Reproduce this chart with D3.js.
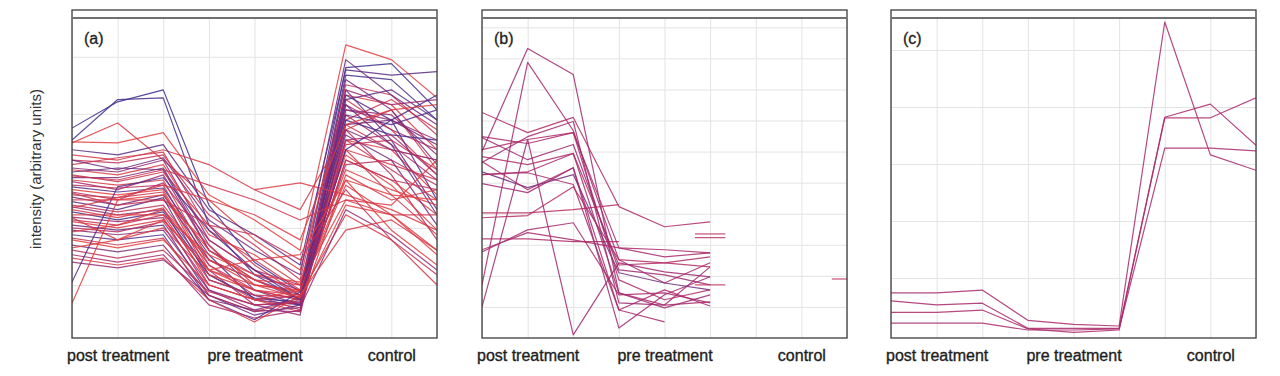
<!DOCTYPE html>
<html>
<head>
<meta charset="utf-8">
<script src="https://cdn.jsdelivr.net/npm/d3@7"></script>
<style>
body { margin: 0; background: #fff; }
svg { display: block; font-family: "Liberation Sans", Arial, sans-serif; }
.grid line { stroke: #e3e3e3; stroke-width: 1; }
.grid path { display: none; }
.xlab path { display: none; }
.xlab text { font-size: 16px; fill: #1e1e1e; stroke: #1e1e1e; stroke-width: 0.35px; }
</style>
</head>
<body>
<svg id="chart" width="1280" height="376"></svg>
<script>
// three groups, three replicate slots each
const categories = ["post treatment", "pre treatment", "control"];
const replicates = [1, 2, 3];
const panelLabels = ["(a)", "(b)", "(c)"];

const ticksA = [1, 2, 3, 4, 5];
const ticksB = [1, 2, 3, 4, 5, 6, 7, 8, 9, 10];
const ticksC = [1, 2, 3, 4, 5];
const domainA = [0.07, 5.68];
const domainB = [0, 10.3];
const domainC = [-0.05, 5.56];

// panel (a): intensity per slot, tone 0 = red, 1 = blue
const seriesA = [
  [3.75, 4.21, 4.42, 2.40, 1.40, 0.88, 4.81, 4.88, 4.07],
  [3.54, 4.25, 4.28, 2.05, 1.18, 0.74, 4.68, 4.60, 3.89],
  [3.49, 3.84, 3.19, 2.49, 1.79, 1.26, 4.33, 4.16, 3.37],
  [3.51, 3.49, 3.67, 2.58, 2.14, 1.61, 5.21, 4.95, 4.28],
  [3.28, 3.19, 3.37, 3.11, 2.67, 2.32, 3.72, 4.07, 3.02],
  [3.19, 3.14, 3.28, 2.23, 1.70, 1.09, 4.51, 4.33, 3.63],
  [3.11, 3.23, 3.33, 1.96, 1.44, 0.91, 4.25, 3.72, 2.93],
  [3.05, 2.98, 3.19, 1.79, 1.26, 0.82, 4.07, 3.89, 3.54],
  [3.02, 2.93, 3.11, 1.88, 1.53, 1.00, 3.54, 3.37, 2.58],
  [2.98, 3.05, 3.02, 1.61, 1.09, 0.74, 4.42, 3.54, 2.32],
  [2.93, 2.81, 2.98, 2.05, 1.35, 0.82, 3.89, 4.25, 3.72],
  [2.88, 2.88, 3.05, 1.70, 0.91, 0.65, 4.60, 4.07, 3.11],
  [2.84, 2.75, 2.84, 1.44, 1.00, 0.77, 3.37, 3.11, 2.84],
  [2.81, 2.67, 2.93, 1.61, 1.18, 0.91, 4.16, 3.72, 3.37],
  [2.75, 2.70, 2.75, 1.35, 0.82, 0.56, 3.72, 2.93, 1.79],
  [2.72, 2.63, 2.70, 1.53, 0.74, 0.65, 4.33, 3.89, 2.49],
  [2.67, 2.58, 2.67, 1.26, 0.91, 0.74, 3.19, 2.84, 2.23],
  [2.63, 2.49, 2.79, 1.79, 1.26, 1.00, 3.98, 3.46, 2.84],
  [2.58, 2.53, 2.63, 1.18, 0.74, 0.53, 3.81, 3.37, 3.19],
  [2.54, 2.40, 2.58, 1.44, 1.09, 0.82, 3.63, 3.19, 2.05],
  [2.49, 2.49, 2.49, 1.70, 1.00, 0.91, 3.02, 2.67, 2.40],
  [2.46, 2.32, 2.53, 1.09, 0.82, 0.65, 4.25, 4.42, 3.89],
  [2.40, 2.28, 2.40, 1.35, 0.91, 0.74, 3.46, 3.54, 3.02],
  [2.37, 2.23, 2.32, 1.26, 0.65, 0.47, 4.07, 3.98, 3.28],
  [2.32, 2.18, 2.35, 1.00, 0.74, 0.60, 2.93, 2.49, 2.67],
  [2.28, 2.14, 2.28, 1.18, 0.77, 0.70, 3.89, 3.63, 3.54],
  [2.23, 2.23, 2.23, 1.53, 1.18, 1.05, 3.28, 2.75, 1.96],
  [2.19, 2.11, 2.18, 0.91, 0.56, 0.53, 4.42, 4.16, 4.25],
  [2.14, 2.05, 2.23, 1.09, 0.82, 0.79, 3.54, 3.02, 2.49],
  [2.11, 2.00, 2.14, 1.26, 1.00, 0.88, 2.75, 2.23, 1.61],
  [2.05, 1.96, 2.05, 0.82, 0.47, 0.65, 4.16, 3.46, 2.23],
  [2.00, 1.93, 2.11, 1.00, 0.74, 0.81, 3.11, 3.19, 2.75],
  [1.96, 1.88, 1.96, 0.91, 0.65, 0.68, 3.72, 3.37, 3.19],
  [1.93, 2.05, 2.32, 1.44, 1.09, 1.00, 2.49, 2.40, 3.19],
  [1.88, 1.79, 1.88, 0.74, 0.39, 0.88, 3.98, 3.81, 4.07],
  [1.82, 1.70, 1.82, 0.82, 0.53, 0.74, 3.37, 2.58, 1.88],
  [1.79, 1.65, 1.79, 1.00, 0.74, 0.91, 2.84, 1.96, 1.35],
  [1.70, 1.58, 1.70, 0.74, 0.56, 0.77, 3.81, 3.89, 3.46],
  [1.61, 1.47, 1.61, 0.88, 0.65, 0.70, 3.19, 2.84, 2.67],
  [1.53, 1.40, 1.53, 0.65, 0.42, 0.56, 3.54, 3.63, 2.93],
  [1.47, 1.35, 1.47, 0.74, 0.35, 0.82, 2.23, 1.79, 1.00],
  [1.40, 1.30, 1.44, 0.82, 0.53, 0.60, 2.32, 1.88, 1.26],
  [1.05, 2.72, 2.88, 1.96, 1.26, 0.74, 3.37, 3.89, 4.33],
  [0.68, 2.49, 2.58, 1.61, 1.09, 0.77, 2.40, 2.23, 1.53],
  [null, null, null, null, 2.67, 2.79, 2.58, 2.32, 1.96],
  [3.37, 3.28, 3.46, 2.32, 1.88, 1.35, 4.77, 4.68, 4.74],
  [3.19, 3.02, 3.23, 2.14, 1.61, 1.18, 4.95, 4.33, 3.81],
  [2.91, 2.84, 3.02, 2.75, 2.49, 2.14, 2.49, 2.23, 2.23],
  [2.61, 2.40, 2.49, 2.05, 1.88, 1.44, 2.67, 1.79, 1.18],
  [2.35, 2.53, 2.75, 2.49, 2.23, 1.79, 3.81, 4.07, 4.16],
  [2.18, 1.79, 2.00, 1.18, 0.91, 0.82, 1.96, 2.14, 1.61],
  [1.65, 1.79, 2.14, 1.26, 1.44, 1.53, 2.84, 2.58, 2.49]
];
const toneA = [1.0, 0.95, 0.1, 0.05, 0.15, 0.3, 0.2, 0.6, 0.1, 0.8, 0.25, 0.7, 0.15,
  0.5, 0.35, 0.9, 0.05, 0.45, 0.2, 0.75, 0.1, 0.85, 0.3, 0.6, 0.15, 0.95, 0.05, 0.55,
  0.25, 0.1, 0.8, 0.4, 0.65, 0.1, 0.9, 0.2, 0.05, 0.7, 0.35, 0.5, 0.15, 0.6, 0.9, 0.05,
  0.1, 0.85, 0.75, 0.2, 0.3, 0.1, 0.15, 0.05];

// panel (b)
const seriesB = [
  [7.26, 6.61, 7.10, 4.23, 3.58, 3.74, null, null, null],
  [6.00, 9.32, 8.48, 1.45, 0.97, 1.39, null, null, null],
  [1.71, 8.87, 6.68, 2.52, 1.77, 2.42, null, null, null],
  [6.48, 6.26, 6.61, 2.90, 2.61, 2.74, null, null, null],
  [5.84, 5.58, 5.94, 2.35, 2.42, 2.61, null, null, null],
  [5.65, 6.48, 6.97, 1.13, 1.06, 2.29, null, null, null],
  [5.35, 4.84, 5.26, 2.10, 1.77, 1.55, null, null, null],
  [5.26, 5.32, 4.94, 0.90, 0.52, null, null, null, null],
  [4.97, 4.68, 5.48, 0.32, 1.39, 1.97, null, null, null],
  [3.19, 3.19, 3.10, 3.10, null, null, null, null, null],
  [4.03, 4.03, 4.13, 4.29, null, null, null, null, null],
  [2.84, 3.39, 3.16, 2.90, 2.84, 2.74, null, null, null],
  [2.77, 3.48, 3.71, 1.39, 1.45, 1.13, null, null, null],
  [1.00, 6.39, 0.10, 2.42, 2.13, 1.97, null, null, null],
  [3.87, 3.94, 4.87, 2.52, 2.42, 2.29, null, null, null],
  [5.26, 5.35, 5.94, 1.45, 1.06, 1.16, null, null, null],
  [5.68, 4.77, 5.48, 0.90, 1.55, 1.03, null, null, null],
  [6.06, 6.39, 6.61, 1.87, 1.23, 1.55, null, null, null],
  [6.45, 5.74, 6.23, 2.19, 2.03, 1.71, null, null, null],
  [null, null, null, null, null, 3.35, null, null, null],
  [null, null, null, null, null, 3.23, null, null, null],
  [null, null, null, null, null, 1.71, null, null, null],
  [null, null, null, null, null, null, null, null, 1.90]
];
const toneB = [0.45, 0.55, 0.5, 0.5, 0.45, 0.55, 0.75, 0.5, 0.55, 0.45, 0.4, 0.5,
  0.5, 0.55, 0.4, 0.5, 0.5, 0.45, 0.55, 0.35, 0.35, 0.35, 0.35];

// panel (c)
const seriesC = [
  [0.74, 0.74, 0.79, 0.26, 0.19, 0.16, 5.49, 3.16, 2.89],
  [0.60, 0.53, 0.56, 0.12, 0.12, 0.12, 3.82, 4.05, 3.33],
  [0.40, 0.40, 0.44, 0.11, 0.05, 0.09, 3.81, 3.81, 4.16],
  [0.21, 0.21, 0.21, 0.09, 0.09, 0.11, 3.28, 3.28, 3.23]
];
const toneC = [0.5, 0.5, 0.48, 0.5];

const slots = categories.flatMap(c => replicates.map(r => c + " " + r));
const color = d3.scaleLinear().domain([0, 0.5, 1]).range(["#e8403a", "#a8286a", "#3a2c8e"]);

const panels = [
  {series: seriesA, tones: toneA, domain: domainA, ticks: ticksA},
  {series: seriesB, tones: toneB, domain: domainB, ticks: ticksB},
  {series: seriesC, tones: toneC, domain: domainC, ticks: ticksC}
];

const svg = d3.select("#chart");
const panelLeft = [72, 482, 891];
const panelW = 365, plotTop = 10, stripH = 8, plotBottom = 338;

svg.append("text")
  .attr("transform", "translate(41,169) rotate(-90)")
  .attr("text-anchor", "middle")
  .style("font-size", "15px")
  .style("fill", "#333")
  .text("intensity (arbitrary units)");

panels.forEach((p, i) => {
  const g = svg.append("g").attr("transform", `translate(${panelLeft[i]},0)`);
  const x = d3.scalePoint().domain(slots).range([0, panelW]);
  const y = d3.scaleLinear().domain(p.domain).range([plotBottom, plotTop + stripH]);

  g.append("g").attr("class", "grid")
    .attr("transform", `translate(0,${plotBottom})`)
    .call(d3.axisBottom(x).tickSize(-(plotBottom - plotTop - stripH)).tickFormat(""));
  g.append("g").attr("class", "grid")
    .call(d3.axisLeft(y).tickValues(p.ticks).tickSize(-panelW).tickFormat(""));

  const clipId = "clip" + i;
  g.append("clipPath").attr("id", clipId)
    .append("rect").attr("x", 0).attr("y", plotTop + stripH)
    .attr("width", panelW).attr("height", plotBottom - plotTop - stripH);

  const plot = g.append("g").attr("clip-path", `url(#${clipId})`);
  const line = d3.line()
    .defined(d => d != null)
    .x((d, j) => x(slots[j]))
    .y(d => y(d));

  plot.selectAll("path.series")
    .data(p.series)
    .join("path")
    .attr("class", "series")
    .attr("d", line)
    .attr("fill", "none")
    .attr("stroke", (d, j) => color(p.tones[j]))
    .attr("stroke-width", 1.2)
    .attr("stroke-opacity", 0.85)
    .attr("stroke-linejoin", "round");

  // single values with no neighbours get a short dash
  const half = x.step() / 3;
  const lone = [];
  p.series.forEach((s, j) => s.forEach((v, k) => {
    if (v != null && s[k - 1] == null && s[k + 1] == null) lone.push({v, k, tone: p.tones[j]});
  }));
  plot.selectAll("line.lone")
    .data(lone)
    .join("line")
    .attr("class", "lone")
    .attr("x1", d => x(slots[d.k]) - half)
    .attr("x2", d => x(slots[d.k]) + half)
    .attr("y1", d => y(d.v))
    .attr("y2", d => y(d.v))
    .attr("stroke", d => color(d.tone))
    .attr("stroke-width", 1.2)
    .attr("stroke-opacity", 0.85);

  // frame and empty strip on top
  g.append("rect")
    .attr("x", 0).attr("y", plotTop)
    .attr("width", panelW).attr("height", plotBottom - plotTop)
    .attr("fill", "none").attr("stroke", "#3c3c3c").attr("stroke-width", 1.3);
  g.append("line")
    .attr("x1", 0).attr("x2", panelW)
    .attr("y1", plotTop + stripH).attr("y2", plotTop + stripH)
    .attr("stroke", "#707070").attr("stroke-width", 2);

  g.append("text")
    .attr("x", 12).attr("y", 44)
    .style("font-size", "16px").style("fill", "#222")
    .style("stroke", "#222").style("stroke-width", "0.3px")
    .text(panelLabels[i]);

  g.append("g").attr("class", "xlab")
    .attr("transform", `translate(0,${plotBottom})`)
    .call(d3.axisBottom(x)
      .tickValues(categories.map(c => c + " 2"))
      .tickSize(0).tickPadding(12)
      .tickFormat(d => d.replace(/ 2$/, "")));
});
</script>
</body>
</html>
